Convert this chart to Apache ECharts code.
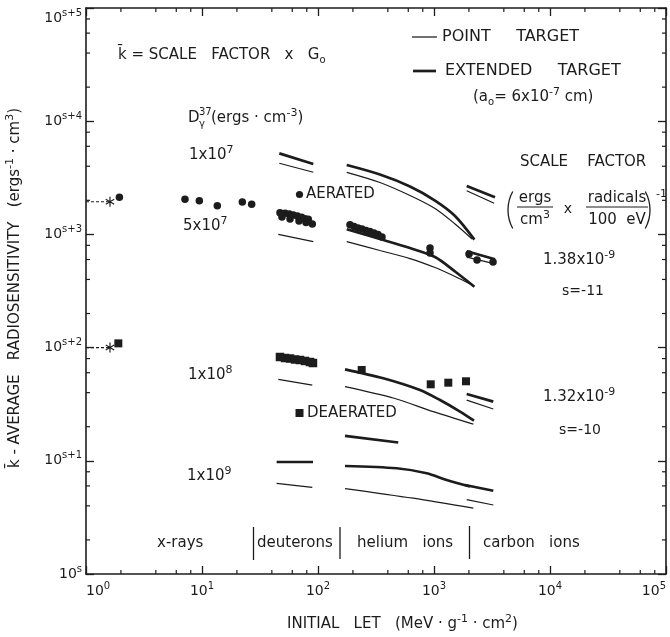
<!DOCTYPE html>
<html><head><meta charset="utf-8">
<script src="https://cdn.jsdelivr.net/npm/echarts@6/dist/echarts.min.js"></script>
<style>html,body{margin:0;padding:0;background:#fff}#c{width:670px;height:637px}</style>
</head><body><div id="c"></div>
<script>
// ---------- data (x = initial LET, y = k-bar relative to 10^s) ----------
const xrayAerated = [[1.94,2128],[7.13,2042],[9.48,1986],[13.55,1794],[22.26,1932],[26.8,1845]];
const xrayAeratedRef = [[1,1945],[1.61,1945]];
const xrayDeaerated = [[1.90,109]];
const xrayDeaeratedRef = [[1,100],[1.61,100]];

const deutAerated = [[47.0,1556],[52.0,1536],[56.6,1514],[61.3,1483],[66.4,1455],[72.3,1416],[77.3,1377],[82.5,1360],[89.3,1237],[48.9,1425],[57.4,1368],[68.6,1313],[78.8,1274]];
const heAerated = [[188.7,1216],[204.3,1175],[221.1,1140],[239.4,1117],[259.2,1082],[280.6,1061],[303.8,1029],[328.9,998],[356.1,948],[924,758],[924,685]];
const cAerated = [[2004,671],[2349,594],[3228,570]];

const deutDeaerated = [[47.0,82.6],[52.0,80.9],[57.4,80.1],[63.4,78.5],[69.9,77.7],[77.3,76.2],[85.3,74.6],[90.5,73.1]];
const heDeaerated = [[238,63.4],[937,47.4],[1328,49.0],[1888,50.4]];

// extended target (thick) and point target (thin) curves
const ext1e7Deut = [[46.4,5200],[91.1,4190]];
const pt1e7Deut  = [[46.4,4250],[91.1,3540]];
const ext1e7He = [[176.8,4104],[342,3383],[621,2651],[1020,1992],[1518,1456],[2230,900]];
const pt1e7He  = [[176.8,3537],[342,2875],[621,2206],[1020,1694],[1518,1236],[2130,911]];
const ext1e7C = [[1914,2679],[3357,2128]];
const pt1e7C  = [[1914,2432],[3300,1883]];

const pt5e7Deut = [[45.5,1002],[91.1,863]];
const ext5e7He = [[176.8,1109],[342,911],[621,758],[1020,631],[1518,470],[2230,345]];
const pt5e7He  = [[176.8,865],[342,721],[621,612],[1020,510],[1518,425],[2130,357]];
const ext5e7C = [[1914,710],[3357,603]];
const pt5e7C  = [[1914,630],[3357,548]];

const pt1e8Deut = [[45.5,52.5],[89.3,46.7]];
const ext1e8He = [[171,64.3],[365.6,53.6],[757,42.2],[1127,34.4],[1676,27.2],[2213,22.6]];
const pt1e8He  = [[171,45.2],[452,35.7],[986,27.2],[2183,21.1]];
const ext1e8C = [[1914,38.9],[3245,33.3]];
const pt1e8C  = [[1914,34.4],[3245,28.7]];
const extMidHe = [[171,16.6],[492,14.5]];

const ext1e9Deut = [[44,9.76],[90.6,9.76]];
const pt1e9Deut  = [[44,6.33],[89.3,5.83]];
const ext1e9He = [[171,9.0],[477,8.59],[865,7.76],[1286,6.77],[2044,5.93]];
const pt1e9He  = [[171,5.69],[663,4.67],[2183,3.81]];
const ext1e9C = [[1850,6.11],[3245,5.44]];
const pt1e9C  = [[1914,4.55],[3245,4.07]];

const minorTicks = [2,4,6,8,20,40,60,80,200,400,600,800,2000,4000,6000,8000,20000,40000,60000,80000];

// ---------- styling ----------
const F = 'DejaVu Sans';
const INK = '#1c1c1c';
const THICK = 2.7, THIN = 1.25;
const STAR = 'path://M-0.6,-5L-0.6,5L0.6,5L0.6,-5ZM4.03,3.02L4.63,1.98L-4.03,-3.02L-4.63,-1.98ZM-4.03,3.02L4.63,-1.98L4.03,-3.02L-4.63,1.98Z';

function R(fs){
  return {
    n:{fontSize:fs,fontFamily:F,fill:INK,color:INK,lineHeight:fs+6},
    sup:{fontSize:Math.round(fs*0.72),fontFamily:F,fill:INK,color:INK,lineHeight:Math.round(fs*0.55),verticalAlign:'top'},
    sub:{fontSize:Math.round(fs*0.65),fontFamily:F,fill:INK,color:INK,lineHeight:Math.round(fs*0.6),verticalAlign:'bottom'}
  };
}
function lineS(data, w){
  return {type:'line', data:data, symbol:'none', showSymbol:false, smooth: data.length>2?0.3:false,
    lineStyle:{color:INK,width:w,opacity:1}, silent:true, animation:false, z:3};
}
function dotS(data, sym, size){
  return {type:'scatter', data:data, symbol:sym, symbolSize:size, itemStyle:{color:INK,opacity:1}, silent:true, animation:false, z:4};
}
function refS(data){
  return {type:'line', data:data.map((p,i)=>({value:p, symbol: i===data.length-1?STAR:'none', symbolSize:[9,10]})),
    showSymbol:true, lineStyle:{color:INK,width:1.1,type:[3,2]}, itemStyle:{color:INK,opacity:1}, silent:true, animation:false, z:4};
}
function T(x,y,str,fs,align,extra){
  return Object.assign({type:'text', x:x, y:y, silent:true, z:10,
    style:{text:str, fontSize:fs, fontFamily:F, fill:INK, align:align||'left', verticalAlign:'middle', rich:R(fs)}}, extra||{});
}
function L(x1,y1,x2,y2,w){
  return {type:'line', silent:true, z:10, shape:{x1:x1,y1:y1,x2:x2,y2:y2}, style:{stroke:INK,lineWidth:w}};
}

const tickStyle = {color:INK,width:1.3};
function xLab(v){ const e=Math.round(Math.log10(v)); return '{n|10}{sup|'+e+'}'; }
function yLab(v){ const e=Math.round(Math.log10(v)); return e===0?'{n|10}{sup|s}':'{n|10}{sup|s+'+e+'}'; }

const chart = echarts.init(document.getElementById('c'), null, {renderer:'canvas'});
const option = {
  animation:false,
  backgroundColor:'#fff',
  grid:{left:86,right:4,top:8,bottom:63,containLabel:false},
  xAxis:[
    {type:'log',logBase:10,min:1,max:1e5,position:'bottom',
     axisLine:{show:true,onZero:false,lineStyle:{color:INK,width:1.6}},
     axisTick:{show:true,inside:true,length:8,lineStyle:tickStyle},
     axisLabel:{formatter:xLab,margin:7,rich:R(14),alignMinLabel:'left',alignMaxLabel:'right'},
     splitLine:{show:false}},
    {type:'log',logBase:10,min:1,max:1e5,position:'top',
     axisLine:{show:true,onZero:false,lineStyle:{color:INK,width:1.6}},
     axisTick:{show:true,inside:true,length:8,lineStyle:tickStyle},
     axisLabel:{show:false},splitLine:{show:false}}
  ],
  yAxis:[
    {type:'log',logBase:10,min:1,max:1e5,position:'left',
     axisLine:{show:true,onZero:false,lineStyle:{color:INK,width:1.6}},
     axisTick:{show:true,inside:true,length:8,lineStyle:tickStyle},
     axisLabel:{formatter:yLab,margin:4,rich:R(14),verticalAlignMaxLabel:'top'},
     splitLine:{show:false}},
    {type:'log',logBase:10,min:1,max:1e5,position:'right',
     axisLine:{show:true,onZero:false,lineStyle:{color:INK,width:1.6}},
     axisTick:{show:true,inside:true,length:8,lineStyle:tickStyle},
     axisLabel:{show:false},splitLine:{show:false}}
  ],
  series:[
    {type:'custom', silent:true, z:5, data:minorTicks.map(v=>[v,1]),
     renderItem:function(params,api){
       const cs=params.coordSys; const x=api.coord([api.value(0),api.value(1)])[0]; const b=cs.y+cs.height;
       return {type:'group',children:[
         {type:'line',shape:{x1:x,y1:b,x2:x,y2:b-4},style:{stroke:INK,lineWidth:1.2}},
         {type:'line',shape:{x1:x,y1:cs.y,x2:x,y2:cs.y+4},style:{stroke:INK,lineWidth:1.2}}]};
     }},
    {type:'custom', silent:true, z:5, data:minorTicks.map(v=>[1,v]),
     renderItem:function(params,api){
       const cs=params.coordSys; const y=api.coord([api.value(0),api.value(1)])[1]; const r=cs.x+cs.width;
       return {type:'group',children:[
         {type:'line',shape:{x1:cs.x,y1:y,x2:cs.x+4,y2:y},style:{stroke:INK,lineWidth:1.2}},
         {type:'line',shape:{x1:r,y1:y,x2:r-4,y2:y},style:{stroke:INK,lineWidth:1.2}}]};
     }},
    lineS(ext1e7Deut,THICK), lineS(pt1e7Deut,THIN), lineS(ext1e7He,THICK), lineS(pt1e7He,THIN),
    lineS(ext1e7C,THICK), lineS(pt1e7C,THIN),
    lineS(pt5e7Deut,THIN), lineS(ext5e7He,THICK), lineS(pt5e7He,THIN), lineS(ext5e7C,THICK), lineS(pt5e7C,THIN),
    lineS(pt1e8Deut,THIN), lineS(ext1e8He,THICK), lineS(pt1e8He,THIN), lineS(ext1e8C,THICK), lineS(pt1e8C,THIN),
    lineS(extMidHe,THICK),
    lineS(ext1e9Deut,THICK), lineS(pt1e9Deut,THIN), lineS(ext1e9He,THICK), lineS(pt1e9He,THIN),
    lineS(ext1e9C,THICK), lineS(pt1e9C,THIN),
    dotS(xrayAerated,'circle',7.5), dotS(deutAerated,'circle',7.5), dotS(heAerated,'circle',7.5), dotS(cAerated,'circle',7.5),
    dotS(xrayDeaerated,'rect',8), dotS(deutDeaerated,'rect',8.5), dotS(heDeaerated,'rect',8),
    refS(xrayAeratedRef), refS(xrayDeaeratedRef)
  ],
  graphic:[
    T(118,55,'{n|k\u0304 = SCALE   FACTOR   x   G}{sub|o}',15),
    T(188,118,'{n|D}',15), T(199,112,'{n|37}',10), T(199,124,'{n|\u03b3}',10),
    T(211,118,'{n|(ergs \u00b7 cm}{sup|-3}{n|)}',15),
    T(189,155,'{n|1x10}{sup|7}',15),
    T(183,226,'{n|5x10}{sup|7}',15),
    T(188,375,'{n|1x10}{sup|8}',15),
    T(187,476,'{n|1x10}{sup|9}',15),
    {type:'circle', silent:true, z:10, shape:{cx:299.5,cy:194.5,r:3.6}, style:{fill:INK}},
    T(306,194,'{n|AERATED}',15),
    {type:'rect', silent:true, z:10, shape:{x:295.5,y:409,width:8,height:8}, style:{fill:INK}},
    T(307,413,'{n|DEAERATED}',15),
    L(412,37,437,37,THIN), T(442,37,'{n|POINT     TARGET}',16),
    L(413,71,436,71,THICK), T(445,71,'{n|EXTENDED     TARGET}',16),
    T(473,97,'{n|(a}{sub|o}{n|= 6x10}{sup|-7}{n| cm)}',15),
    T(520,162,'{n|SCALE    FACTOR}',15),
    {type:'arc', silent:true, z:10, shape:{cx:546.6,cy:210,r:38.6,startAngle:Math.PI-0.5,endAngle:Math.PI+0.5}, style:{stroke:INK,lineWidth:1.3,fill:null}},
    {type:'arc', silent:true, z:10, shape:{cx:611.4,cy:210,r:38.6,startAngle:-0.5,endAngle:0.5}, style:{stroke:INK,lineWidth:1.3,fill:null}},
    T(535,198,'{n|ergs}',15,'center'), L(517,207,553,207,1.2), T(535,220,'{n|cm}{sup|3}',15,'center'),
    T(568,209,'{n|x}',14,'center'),
    T(617,198,'{n|radicals}',15,'center'), L(586,207,648,207,1.2), T(617,220,'{n|100  eV}',15,'center'),
    T(656,194,'{n|-1}',11),
    T(543,260,'{n|1.38x10}{sup|-9}',15),
    T(583,291,'{n|s=-11}',14,'center'),
    T(543,397,'{n|1.32x10}{sup|-9}',15),
    T(580,430,'{n|s=-10}',14,'center'),
    T(157,543,'{n|x-rays}',15),
    L(253.5,527,253.5,560,1.3),
    T(257,543,'{n|deuterons}',15),
    L(340,527,340,559,1.3),
    T(357,543,'{n|helium   ions}',15),
    L(469.5,526,469.5,559,1.3),
    T(483,543,'{n|carbon   ions}',15),
    T(287,624,'{n|INITIAL   LET   (MeV \u00b7 g}{sup|-1}{n| \u00b7 cm}{sup|2}{n|)}',15),
    T(15,288,'{n|k\u0304 - AVERAGE   RADIOSENSITIVITY   (ergs}{sup|-1}{n| \u00b7 cm}{sup|3}{n|)}',15,'center',{rotation:Math.PI/2})
  ]
};
chart.setOption(option);
</script></body></html>
